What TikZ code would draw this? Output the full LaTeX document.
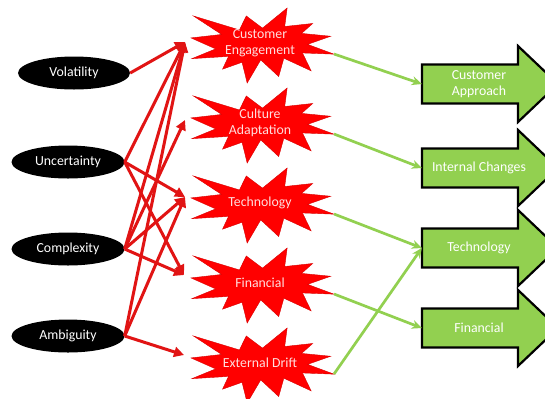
\documentclass[tikz,border=0pt]{standalone}
\usepackage{fontspec}
\setmainfont{Carlito}
\usetikzlibrary{arrows.meta,shapes.geometric}
\definecolor{starred}{RGB}{255,0,0}
\definecolor{linered}{RGB}{225,20,20}
\definecolor{grn}{RGB}{146,208,80}
\definecolor{lpink}{RGB}{255,222,222}
\tikzset{
  txt/.style={font=\fontsize{13.8bp}{16.5bp}\selectfont, align=center, inner sep=0pt},
  ell/.style={txt, ellipse, fill=black, text=white, minimum width=113bp, minimum height=33bp},
  startext/.style={txt, text=lpink},
  blktext/.style={txt, text=white, minimum width=114bp, minimum height=39bp},
  redarr/.style={draw=linered, line width=3bp, -{Triangle[length=10bp,width=10bp]}},
  grnarr/.style={draw=grn, line width=2.7bp, -{Stealth[length=10bp,width=9bp]}},
  starshape/.style={fill=starred, draw=red!85!black, line width=0.4bp},
  blkshape/.style={fill=grn, draw=black, line width=2.2bp, line join=miter},
}
\begin{document}
\begin{tikzpicture}[x=1bp,y=-1bp]
\useasboundingbox (0,0) rectangle (545,398);
\clip (0,0) rectangle (545,398);
\fill[white] (0,0) rectangle (545,398);

% starbursts
\foreach \t in {8,88,168,248,328}{
  \begin{scope}[shift={(191,\t)}, x=143bp, y=-75bp]
    \path[starshape] (0.5,0.2685) -- (0.6723,0) -- (0.6553,0.2465) -- (0.8509,0.2063)
      -- (0.7732,0.3387) -- (0.9767,0.3767) -- (0.8151,0.4850) -- (1,0.6153)
      -- (0.7795,0.5992) -- (0.8400,0.8377) -- (0.6491,0.6693) -- (0.6133,0.9138)
      -- (0.4876,0.6914) -- (0.3928,1) -- (0.3572,0.7235) -- (0.2205,0.8156)
      -- (0.2624,0.6452) -- (0.00625,0.6753) -- (0.1723,0.5451) -- (0,0.3988)
      -- (0.2142,0.3526) -- (0.0171,0.1063) -- (0.3385,0.2926) -- (0.3867,0.1063) -- cycle;
  \end{scope}
}
\node[startext] (ce) at (260,43) {Customer\\Engagement};
\node[startext] (cu) at (260,123) {Culture\\Adaptation};
\node[startext] (te) at (260,203) {Technology};
\node[startext] (fi) at (260,283) {Financial};
\node[startext] (ex) at (260,363) {External Drift};

\coordinate (ceIn) at (185,42);
\coordinate (cuIn) at (185,120);
\coordinate (teIn) at (185,197);
\coordinate (fiIn) at (184,275);
\coordinate (exIn) at (184,355);
\coordinate (ceOut) at (334,54);
\coordinate (cuOut) at (334,134);
\coordinate (teOut) at (334,214);
\coordinate (fiOut) at (334,294);
\coordinate (exOut) at (334,374);

% block arrows
\foreach \c in {84,168,248,328}{
  \path[blkshape] (422,\c-19.5) -- (518,\c-19.5) -- (518,\c-38) -- (558,\c)
    -- (518,\c+38) -- (518,\c+19.5) -- (422,\c+19.5) -- cycle;
}
\node[blktext] (ca) at (479,84) {Customer\\Approach};
\node[blktext] (ic) at (479,168) {Internal Changes};
\node[blktext] (tb) at (479,248) {Technology};
\node[blktext] (fb) at (479,328) {Financial};

% ellipses
\node[ell, minimum width=112bp] (vol) at (74,73) {Volatility};
\node[ell] (unc) at (68,162) {Uncertainty};
\node[ell] (com) at (68,249) {Complexity};
\node[ell] (amb) at (68,336) {Ambiguity};

% red arrows
\draw[redarr] (vol.east) -- (ceIn);
\draw[redarr] (unc.east) -- (ceIn);
\draw[redarr] (unc.east) -- (teIn);
\draw[redarr] (unc.east) -- (fiIn);
\draw[redarr] (com.east) -- (ceIn);
\draw[redarr] (com.east) -- (cuIn);
\draw[redarr] (com.east) -- (teIn);
\draw[redarr] (com.east) -- (fiIn);
\draw[redarr] (amb.east) -- (ceIn);
\draw[redarr] (amb.east) -- (teIn);
\draw[redarr] (amb.east) -- (exIn);

% green arrows
\draw[grnarr] (ceOut) -- (ca.west);
\draw[grnarr] (cuOut) -- (ic.west);
\draw[grnarr] (teOut) -- (tb.west);
\draw[grnarr] (fiOut) -- (fb.west);
\draw[grnarr] (exOut) -- (tb.west);
\end{tikzpicture}
\end{document}
